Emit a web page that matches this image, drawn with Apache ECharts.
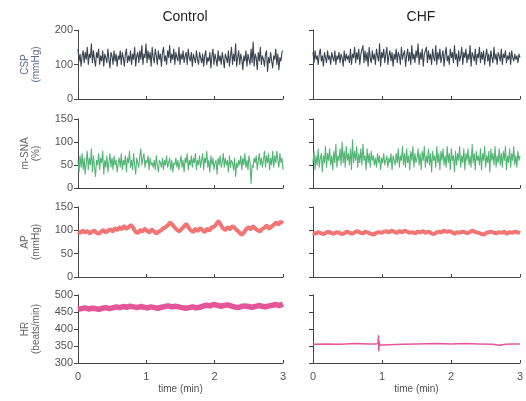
<!DOCTYPE html>
<html><head><meta charset="utf-8">
<script src="https://cdn.jsdelivr.net/npm/echarts@6/dist/echarts.min.js"></script>
<style>html,body{margin:0;padding:0;background:#fff}#c{width:526px;height:401px}</style>
</head><body><div id="c"></div>
<script>
const columnTitles = ['Control', 'CHF'];
const xTickLabels = ['0', '1', '2', '3'];

const cspControl = [145,110,130,95,125,140,105,135,115,150,100,130,120,160,105,140,115,95,135,120,
145,100,125,110,140,95,130,120,105,145,115,90,135,125,100,140,110,130,95,125,
115,140,100,135,120,95,130,145,105,125,110,140,100,130,115,150,95,125,135,105,
140,115,155,100,130,120,160,105,140,115,135,95,150,120,105,145,125,100,140,115,
130,95,135,150,110,125,100,140,120,155,105,130,115,145,100,135,120,110,150,100,
130,115,140,105,125,135,100,145,120,110,135,95,130,125,105,140,115,100,135,120,
105,130,95,125,140,100,120,110,135,90,125,145,100,130,115,95,140,110,125,100,
135,115,90,130,120,105,140,95,125,150,100,130,110,160,95,120,140,100,130,115,
85,125,110,140,95,130,115,100,145,105,165,95,130,120,85,135,110,150,100,125,
115,95,130,140,80,120,105,135,110,90,125,115,145,100,130,85,120,110,135,140];
const cspCHF = [135,105,140,115,125,100,130,145,110,125,95,135,120,105,140,115,125,100,135,120,
110,140,100,125,115,135,105,130,120,95,140,110,130,115,125,105,145,100,130,120,
150,105,135,115,145,100,130,125,155,105,140,110,135,95,150,120,105,140,115,130,
100,145,125,110,160,95,135,120,145,105,130,150,100,125,140,110,135,95,130,115,
145,105,135,125,100,150,115,130,140,95,125,145,110,135,100,155,115,130,105,140,
120,160,100,135,115,145,95,130,125,150,105,140,115,130,100,145,120,110,155,100,
135,115,145,105,125,140,95,130,150,110,125,100,145,120,135,105,155,115,130,95,
140,110,125,150,100,135,120,145,105,130,115,155,95,135,125,110,145,100,130,120,
150,105,135,115,140,100,125,145,110,130,95,140,120,105,150,115,130,100,135,125,
110,145,100,130,120,140,105,125,115,135,100,140,120,110,130,115,125,105,130,120];
const snaControl = [60,35,70,45,75,40,65,30,55,80,40,65,50,85,35,70,45,25,60,50,
75,40,65,55,80,30,60,45,70,35,55,75,45,65,40,70,50,60,35,55,
65,45,75,40,60,50,70,35,65,55,80,45,60,40,75,50,30,65,55,45,
70,85,50,65,75,45,60,55,70,40,65,50,55,45,60,40,70,50,35,60,
55,45,65,40,60,50,70,45,55,65,40,60,35,55,50,65,45,60,40,55,
70,45,60,35,65,55,75,40,60,50,70,45,65,55,75,40,60,50,70,45,
60,75,40,65,55,80,45,60,35,70,50,65,40,55,60,30,65,50,70,45,
55,75,45,65,50,60,35,70,45,60,55,40,65,25,55,45,60,50,70,40,
65,50,75,45,60,40,70,55,10,50,45,65,55,70,40,60,75,50,65,45,
60,80,45,70,55,75,40,65,50,80,45,70,55,80,60,45,75,55,65,40];
const snaCHF = [55,80,40,70,50,85,45,65,75,35,70,55,90,45,75,60,85,50,70,40,
80,55,95,45,70,60,85,50,100,55,80,45,90,60,75,50,85,40,105,55,
80,60,90,45,75,55,85,50,95,60,70,40,85,55,75,45,80,60,70,50,
65,45,75,55,70,40,65,55,75,50,60,70,45,65,55,75,40,70,60,50,
75,55,85,45,70,60,90,50,75,45,85,55,70,40,80,60,90,45,75,55,
65,85,50,75,40,80,60,90,45,70,55,85,50,75,35,80,60,70,45,90,
55,75,40,80,60,85,50,70,45,90,55,75,40,85,60,70,35,80,50,75,
60,90,45,70,55,85,40,75,60,85,50,70,45,95,55,75,40,80,60,70,
50,85,40,75,60,90,45,70,55,80,35,85,60,75,50,90,45,70,55,85,
50,75,45,80,60,90,40,70,55,85,45,75,60,90,50,70,45,80,60,70];
const apControl = [97,95,99,96,98,94,97,99,95,93,
97,100,96,99,102,98,104,101,106,103,
109,104,107,111,105,97,95,100,98,103,
99,96,101,98,94,97,100,104,107,111,
116,112,106,101,98,103,108,113,106,100,
97,103,99,104,101,97,103,100,106,108,
113,119,112,104,101,106,103,108,105,100,
96,91,95,102,106,103,108,104,100,98,
103,106,110,104,108,112,116,113,118,115];
const apCHF = [95,93,96,94,92,95,97,94,93,96,
95,92,94,97,95,93,96,98,95,94,
97,95,93,91,94,96,95,97,98,96,
99,97,95,98,96,99,97,95,96,94,
97,96,98,95,97,94,92,95,97,96,
99,97,98,96,93,96,95,97,96,94,
97,99,96,95,93,91,94,96,97,95,
94,96,95,97,93,96,95,97,96,94];
const hrControl = [458,460,462,459,461,460,458,461,463,460,
462,465,463,466,464,467,465,463,466,464,
462,465,463,461,464,466,468,465,467,465,
463,461,463,465,462,464,467,470,468,472,
470,467,469,471,468,465,463,466,468,466,
464,466,469,467,465,468,470,472,469,473];
const hrCHFTime = [0,0.2,0.4,0.6,0.8,0.9,0.94,0.95,0.955,0.96,0.97,1.0,1.1,1.3,1.5,1.8,2.0,2.2,2.4,2.6,2.7,2.8,2.9,3.0];
const hrCHF = [355,356,355,357,356,356,357,380,336,362,352,353,354,355,356,357,356,357,356,355,352,355,356,356];

const rows = [
  {name:'CSP\n(mmHg)', nameColor:'#5f6d90', min:0, max:200, interval:100, top:30, height:69, color:'#3b4350', width:1.1, smooth:false, data:[cspControl, cspCHF]},
  {name:'m-SNA\n(%)', nameColor:'#666', min:0, max:150, interval:50, top:119, height:69, color:'#52b575', width:1.1, smooth:false, data:[snaControl, snaCHF]},
  {name:'AP\n(mmHg)', nameColor:'#666', min:0, max:150, interval:50, top:207, height:70, color:'#f27474', width:4, smooth:0.4, data:[apControl, apCHF]},
  {name:'HR\n(beats/min)', nameColor:'#666', min:300, max:500, interval:50, top:295, height:68, color:'#e5559a', width:[5.5,1.5], smooth:false, data:[hrControl, null]}
];
const cols = [{left:78, width:205},{left:313, width:207}];

function series(vals){ const n = vals.length; return vals.map((v,i)=>[i*3/(n-1), v]); }

const grid=[], xAxis=[], yAxis=[], ser=[];
let gi=0;
rows.forEach((r,ri)=>{
  cols.forEach((c,ci)=>{
    grid.push({left:c.left, width:c.width, top:r.top, height:r.height, containLabel:false});
    const last = ri===rows.length-1;
    xAxis.push({type:'value', gridIndex:gi, min:0, max:3, interval:1,
      axisLine:{lineStyle:{color:'#444', width:1}},
      axisTick:{show:true, inside:true, length:3, lineStyle:{color:'#444'}},
      axisLabel:{show:last, color:'#555', fontSize:11, fontFamily:'Liberation Sans', margin:8, formatter:v=>xTickLabels[Math.round(v)]},
      splitLine:{show:false},
      name: last ? 'time (min)' : '', nameLocation:'middle', nameGap:21,
      nameTextStyle:{color:'#555', fontSize:10, fontFamily:'Liberation Sans'}
    });
    yAxis.push({type:'value', gridIndex:gi, min:r.min, max:r.max, interval:r.interval,
      axisLine:{show:true, lineStyle:{color:'#444', width:1}},
      axisTick:{show:true, length:4, lineStyle:{color:'#444'}},
      axisLabel:{show:ci===0, color:'#555', fontSize:11, fontFamily:'Liberation Sans', margin:5},
      splitLine:{show:false},
      name: ci===0 ? r.name : '', nameLocation:'middle', nameRotate:90, nameGap:36,
      nameTextStyle:{color:r.nameColor, fontSize:10, fontFamily:'Liberation Sans', lineHeight:11}
    });
    let d;
    if (ri===3 && ci===1) d = hrCHFTime.map((t,i)=>[t, hrCHF[i]]);
    else d = series(r.data[ci]);
    const w = Array.isArray(r.width) ? r.width[ci] : r.width;
    ser.push({type:'line', xAxisIndex:gi, yAxisIndex:gi, data:d, showSymbol:false, symbol:'none', smooth:r.smooth,
      lineStyle:{color:r.color, width:w, join:'round'}, animation:false, silent:true});
    gi++;
  });
});

const chart = echarts.init(document.getElementById('c'), null, {renderer:'canvas'});
chart.setOption({
  backgroundColor:'#fff', animation:false,
  title:[
    {text:columnTitles[0], left:180, top:5, textAlign:'center', textStyle:{color:'#222', fontSize:14, fontWeight:'normal', fontFamily:'Liberation Sans'}},
    {text:columnTitles[1], left:416, top:5, textAlign:'center', textStyle:{color:'#222', fontSize:14, fontWeight:'normal', fontFamily:'Liberation Sans'}}
  ],
  grid, xAxis, yAxis, series:ser
});
</script></body></html>
